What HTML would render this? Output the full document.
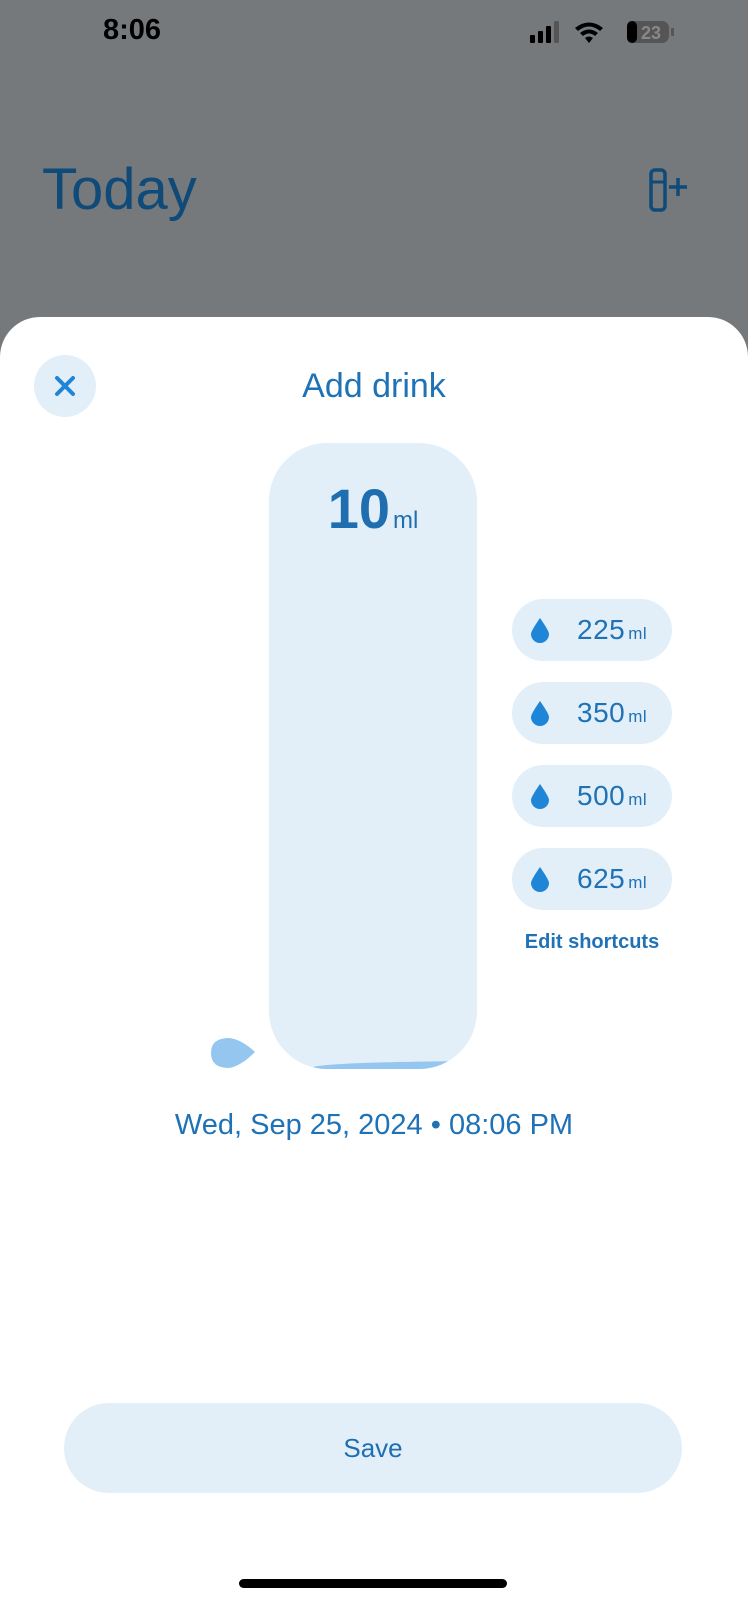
<!DOCTYPE html>
<html><head><meta charset="utf-8"><style>
*{margin:0;padding:0;box-sizing:border-box}
body{width:748px;height:1600px;overflow:hidden;background:#75797c;font-family:"Liberation Sans",sans-serif;position:relative}
.abs{position:absolute}
.blue{color:#1f72b6}
.pill{position:absolute;left:512px;width:160px;height:62px;border-radius:31px;background:#e2eff9;display:flex;align-items:center}
.pill svg{margin-left:17px}
.pill .v{margin-left:26px;font-size:28px;color:#1f72b6;letter-spacing:0.5px}
.pill .u{font-size:17px;margin-left:3px}
</style></head><body>
<div class="abs" style="left:103px;top:14px;font-size:29px;font-weight:bold;color:#000">8:06</div>
<svg class="abs" style="left:528px;top:20px" width="160" height="26">
<rect x="2" y="15" width="5" height="8" rx="1" fill="#000"/><rect x="10" y="11" width="5" height="12" rx="1" fill="#000"/><rect x="18" y="6" width="5" height="17" rx="1" fill="#000"/><rect x="26" y="1" width="5" height="22" rx="1" fill="#555"/>
<path d="M47 8 Q61 -3 75 8 L72 11 Q61 2 50 11Z M52 13 Q61 6 70 13 L67 16 Q61 11 55 16Z M57 18 L61 23 L65 18 Q61 15 57 18Z" fill="#000"/>
<rect x="99" y="1" width="42" height="22" rx="7" fill="#555"/><rect x="99" y="1" width="10" height="22" rx="5" fill="#000"/><rect x="143" y="8" width="3" height="8" rx="1" fill="#555"/>
<text x="123" y="19" font-size="18" font-weight="bold" fill="#888" text-anchor="middle" font-family="Liberation Sans">23</text></svg>
<div class="abs" style="left:42px;top:156px;font-size:58px;color:#0f4a78">Today</div>
<svg class="abs" style="left:646px;top:168px" width="46" height="46"><rect x="5" y="2" width="14" height="40" rx="4" fill="none" stroke="#0f4a78" stroke-width="3.5"/><line x1="5" y1="14" x2="19" y2="14" stroke="#0f4a78" stroke-width="3"/><path d="M32 10v18M23 19h18" stroke="#0f4a78" stroke-width="3.5"/></svg>
<div class="abs" style="left:0;top:317px;width:748px;height:1300px;background:#fff;border-radius:40px 40px 0 0"></div>
<div class="abs" style="left:34px;top:355px;width:62px;height:62px;border-radius:50%;background:#e2eff9;display:flex;align-items:center;justify-content:center"><svg width="22" height="22"><path d="M3 3L19 19M19 3L3 19" stroke="#1f85d6" stroke-width="4" stroke-linecap="round"/></svg></div>
<div class="abs blue" style="left:0;width:748px;top:367px;text-align:center;font-size:34px">Add drink</div>
<div class="abs" style="left:269px;top:443px;width:208px;height:626px;border-radius:58px;background:#e2eff9;overflow:hidden">
<svg class="abs" style="left:0;bottom:0" width="208" height="20"><path d="M40 20 Q40 13 208 12 L208 20Z" fill="#94c6ef"/></svg></div>
<div class="abs blue" style="left:269px;width:208px;top:476px;text-align:center;font-size:56px;font-weight:bold;color:#1f6fb0">10<span style="font-size:24px;font-weight:normal;margin-left:3px">ml</span></div>
<svg class="abs" style="left:209px;top:1036px" width="48" height="34"><path d="M2 17 Q2 2 20 2 Q32 3 46 16 Q32 30 20 32 Q2 32 2 17Z" fill="#94c6ef"/></svg>
<div class="pill" style="top:599px"><svg width="22" height="26"><path d="M11 1 Q20 14 20 17 A9 9 0 0 1 2 17 Q2 14 11 1Z" fill="#1f85d6"/></svg><span class="v">225<span class="u">ml</span></span></div>
<div class="pill" style="top:682px"><svg width="22" height="26"><path d="M11 1 Q20 14 20 17 A9 9 0 0 1 2 17 Q2 14 11 1Z" fill="#1f85d6"/></svg><span class="v">350<span class="u">ml</span></span></div>
<div class="pill" style="top:765px"><svg width="22" height="26"><path d="M11 1 Q20 14 20 17 A9 9 0 0 1 2 17 Q2 14 11 1Z" fill="#1f85d6"/></svg><span class="v">500<span class="u">ml</span></span></div>
<div class="pill" style="top:848px"><svg width="22" height="26"><path d="M11 1 Q20 14 20 17 A9 9 0 0 1 2 17 Q2 14 11 1Z" fill="#1f85d6"/></svg><span class="v">625<span class="u">ml</span></span></div>
<div class="abs" style="left:512px;width:160px;top:931px;text-align:center;font-size:20px;font-weight:bold;color:#1f72b6">Edit shortcuts</div>
<div class="abs blue" style="left:0;width:748px;top:1109px;text-align:center;font-size:29px">Wed, Sep 25, 2024 • 08:06 PM</div>
<div class="abs" style="left:64px;top:1403px;width:618px;height:90px;border-radius:45px;background:#e2eff9;display:flex;align-items:center;justify-content:center;font-size:26px;color:#1f6fb0">Save</div>
<div class="abs" style="left:239px;top:1579px;width:268px;height:9px;border-radius:5px;background:#000"></div>
</body></html>
